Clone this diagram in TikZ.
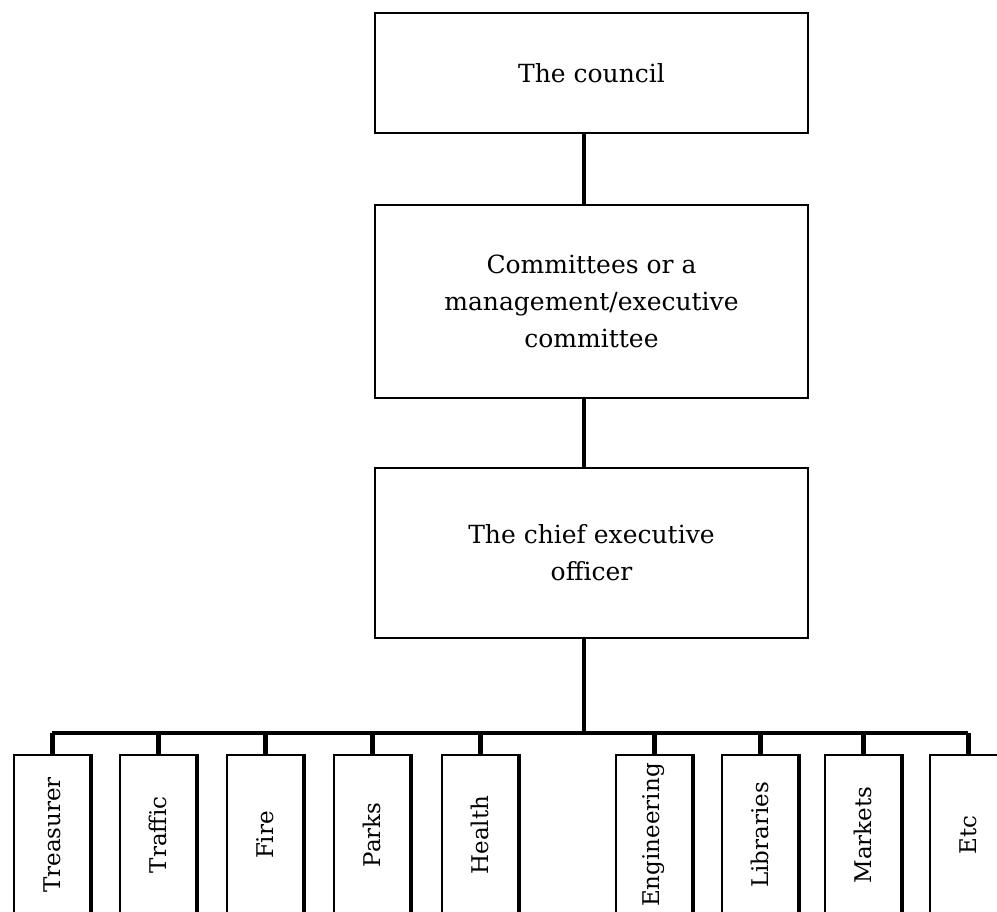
\documentclass[tikz,border=0pt]{standalone}
\usepackage{fontspec}
\setmainfont{DejaVu Serif}
\usetikzlibrary{calc}

\begin{document}
\begin{tikzpicture}[x=1pt, y=-1pt,
		rankbox/.style={rectangle, draw, line width=2pt, minimum width=433pt, inner sep=0pt, align=center, font=\fontsize{25}{37}\selectfont},
		deptbox/.style={rectangle, draw, line width=1.5pt, minimum width=76pt, minimum height=160pt, inner sep=0pt, font=\fontsize{23}{26}\selectfont},
		spineline/.style={line width=3.5pt},
		deptline/.style={line width=5pt}]
		\useasboundingbox (0, 0) rectangle (997, 912);
		\clip (0, 0) rectangle (997, 912);

		\path (591.5, 73) node[rankbox, minimum height=120pt] (council) {The council}
  		(591.5, 301.5) node[rankbox, minimum height=193pt] (committee) {Committees or a\\management/executive\\committee}
  		(591.5, 553) node[rankbox, minimum height=170pt] (ceo) {The chief executive\\officer};
		\coordinate (spine) at (584, 733);

		\draw[spineline] (council.south -| spine) -- (committee.north -| spine);
		\draw[spineline] (committee.south -| spine) -- (ceo.north -| spine);
		\draw[spineline] (ceo.south -| spine) -- (spine);

		\foreach \x/\name/\lbl in {52/treasurer/Treasurer, 158/traffic/Traffic, 265/fire/Fire, 372/parks/Parks, 480/health/Health, 654/engineering/Engineering, 760/libraries/Libraries, 863/markets/Markets, 968/etc/Etc} {
			\path (\x, 835) node[deptbox] (\name) {\rotatebox{90}{\lbl}};
			\draw[line width=4pt] (\name.north east) -- (\name.south east);
			\draw[deptline] (\name.north) -- (\name.north |- spine);
		}
		\draw[spineline] (treasurer.north |- spine) -- (etc.north |- spine);
	\end{tikzpicture}
\end{document}
